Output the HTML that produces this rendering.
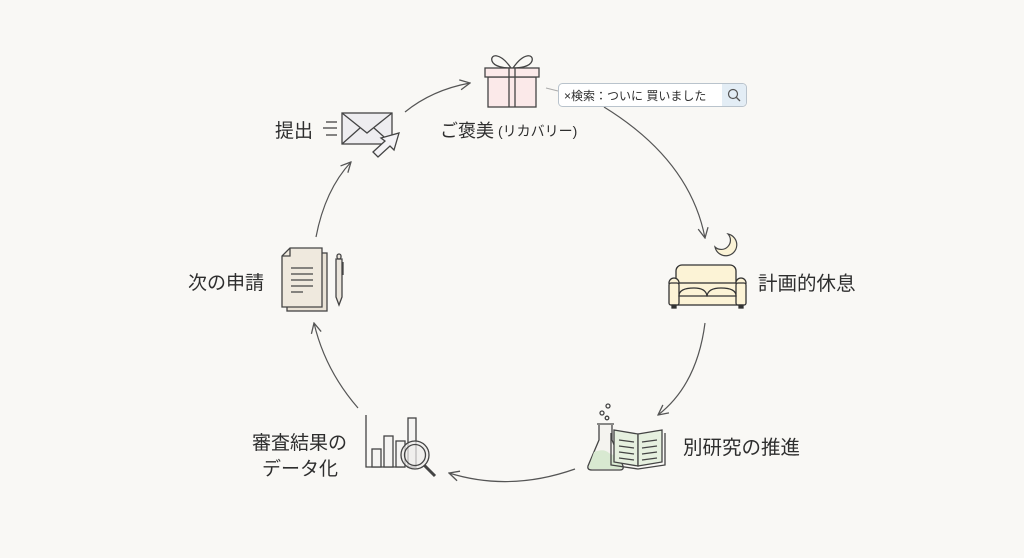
<!DOCTYPE html>
<html><head><meta charset="utf-8"><style>
html,body{margin:0;padding:0;background:#f9f8f5;}
svg{display:block;}
text{font-family:"Liberation Sans","Noto Sans CJK JP",sans-serif;fill:#2e2e2e;}
</style></head><body>
<svg width="1024" height="558" viewBox="0 0 1024 558" xmlns="http://www.w3.org/2000/svg">
<defs>
<marker id="ah" viewBox="0 0 12 12" refX="11" refY="6" markerWidth="12" markerHeight="12" markerUnits="userSpaceOnUse" orient="auto">
<path d="M1,1 L11,6 L1,11" fill="none" stroke="#555" stroke-width="1.3"/>
</marker>
</defs>
<rect width="1024" height="558" fill="#f9f8f5"/>

<!-- connectors -->
<g fill="none" stroke="#555" stroke-width="1.2" marker-end="url(#ah)">
<path d="M405,112 Q432,90 470,83"/>
<path d="M604,107 Q690,160 705,238"/>
<path d="M705,323 Q697,385 658,415"/>
<path d="M575,469 Q510,492 449,473"/>
<path d="M358,408 Q325,370 314,323"/>
<path d="M316,237 Q325,190 351,162"/>
</g>

<!-- envelope -->
<g stroke="#444" stroke-width="1.3" fill="none">
<line x1="326" y1="122" x2="337" y2="122"/>
<line x1="323" y1="128" x2="337" y2="128"/>
<line x1="326" y1="135" x2="337" y2="135"/>
<rect x="342" y="113" width="50" height="31" fill="#eeedf0"/>
<path d="M342,113 L367,133 L392,113"/>
<path d="M342,144 L360,128 M392,144 L374,128"/>
<path d="M373,152 L385,141 L381,138 L399,133 L394,150 L390,146 L378,157 Z" fill="#f4f3f6"/>
</g>
<text x="275" y="137" font-size="19">提出</text>

<!-- gift -->
<g stroke="#444" stroke-width="1.3" fill="#fbe9e9">
<path d="M511,68 C500,52 490,54 492,61 C494,67 505,68 511,68 Z" fill="none"/>
<path d="M513,68 C524,52 534,54 532,61 C530,67 519,68 513,68 Z" fill="none"/>
<rect x="488" y="77" width="48" height="30"/>
<rect x="485" y="68" width="54" height="9"/>
<line x1="509" y1="68" x2="509" y2="107"/>
<line x1="515" y1="68" x2="515" y2="107"/>
</g>
<text x="440" y="137" font-size="18">ご褒美<tspan font-size="14" dx="4" dy="-1">(リカバリー)</tspan></text>

<!-- search box -->
<line x1="546" y1="88" x2="558" y2="91" stroke="#aaa" stroke-width="1"/>
<rect x="558.5" y="83.5" width="188" height="23" rx="4" fill="#ffffff" stroke="#b9c3cc" stroke-width="1"/>
<path d="M722,84 H742 a4,4 0 0 1 4,4 V102 a4,4 0 0 1 -4,4 H722 Z" fill="#e3edf5"/>
<text x="564" y="100" font-size="12" fill="#333">×検索：ついに 買いました</text>
<circle cx="733" cy="94" r="4.5" fill="none" stroke="#555" stroke-width="1.2"/>
<line x1="736.5" y1="97.5" x2="740" y2="101" stroke="#555" stroke-width="1.3"/>

<!-- moon -->
<path d="M728,234 A11,11 0 1 1 715,247 A9.2,9.2 0 0 0 728,234 Z" fill="#fbf3d6" stroke="#444" stroke-width="1.2"/>

<!-- sofa -->
<g stroke="#333" stroke-width="1.3" fill="#fcf3d6">
<rect x="676" y="265" width="60" height="24" rx="6"/>
<rect x="672" y="283" width="71" height="22" fill="#fcf3d6"/>
<circle cx="674" cy="283" r="5"/>
<circle cx="741" cy="283" r="5"/>
<rect x="669" y="283" width="10" height="22" rx="2"/>
<rect x="736" y="283" width="10" height="22" rx="2"/>
<path d="M679,296 Q679,288 694,288 Q706,288 707,296 Z"/>
<path d="M707,296 Q708,288 721,288 Q736,288 736,296 Z"/>
<rect x="672" y="305" width="4" height="3" fill="#333"/>
<rect x="739" y="305" width="4" height="3" fill="#333"/>
</g>
<text x="758" y="290" font-size="19.5">計画的休息</text>

<!-- flask + book -->
<g stroke="#444" stroke-width="1.3" fill="none">
<circle cx="608" cy="406" r="2"/>
<circle cx="602" cy="413" r="2"/>
<circle cx="607" cy="418" r="1.8"/>
<path d="M599,425 L599,440 L588,466 Q587,470 592,470 L620,470 Q624,470 623,466 L612,440 L612,425" fill="#f4f3ef"/>
<path d="M594,452 Q604,448 609,453 Q614,457 617,452 L622,466 Q623,469 619,469 L592,469 Q588,469 589,466 Z" fill="#d8e9d1" stroke="none"/>
<line x1="597" y1="424" x2="614" y2="424"/>
<path d="M614,430 L638,434 L638,466 L614,462 Z" fill="#e6f0df"/>
<path d="M638,434 L662,430 L662,462 L638,466 Z" fill="#e6f0df"/>
<path d="M611,433 L611,465 L638,469 L665,465 L665,433" />
<path d="M619,440 L634,442 M619,446 L634,448 M619,452 L634,454 M619,458 L634,460"/>
<path d="M642,442 L657,440 M642,448 L657,446 M642,454 L657,452 M642,460 L657,458"/>
</g>
<text x="683" y="454" font-size="19.5">別研究の推進</text>

<!-- chart -->
<g stroke="#444" stroke-width="1.3" fill="#f5f4f2">
<path d="M366,415 L366,467 L405,467" fill="none"/>
<rect x="372" y="449" width="9" height="18"/>
<rect x="384" y="436" width="9" height="31"/>
<rect x="396" y="441" width="9" height="26"/>
<rect x="408" y="418" width="8" height="49"/>
<line x1="424" y1="465" x2="435" y2="476" stroke-width="3"/>
<circle cx="415" cy="455" r="14" fill="#eeedeb" fill-opacity="0.7"/>
<circle cx="415" cy="455" r="10.5" fill="none"/>
</g>
<text x="252" y="449" font-size="19">審査結果の</text>
<text x="262" y="475" font-size="19">データ化</text>

<!-- documents -->
<g stroke="#444" stroke-width="1.3">
<rect x="287" y="253" width="40" height="58" fill="#e9e2d6"/>
<path d="M290,248 L322,248 L322,307 L282,307 L282,256 Z" fill="#efe9de"/>
<path d="M282,256 L290,256 L290,248" fill="none"/>
<path d="M291,268 H313 M291,274 H313 M291,280 H313 M291,286 H313 M291,292 H303" fill="none"/>
<path d="M336,259 L336,297 L339,305 L342,297 L342,259 Z" fill="#ebe6dd"/>
<rect x="337" y="254" width="4" height="5" rx="2" fill="#ebe6dd"/>
<line x1="343" y1="262" x2="343" y2="275" fill="none"/>
</g>
<text x="188" y="289" font-size="19">次の申請</text>
</svg>
</body></html>
